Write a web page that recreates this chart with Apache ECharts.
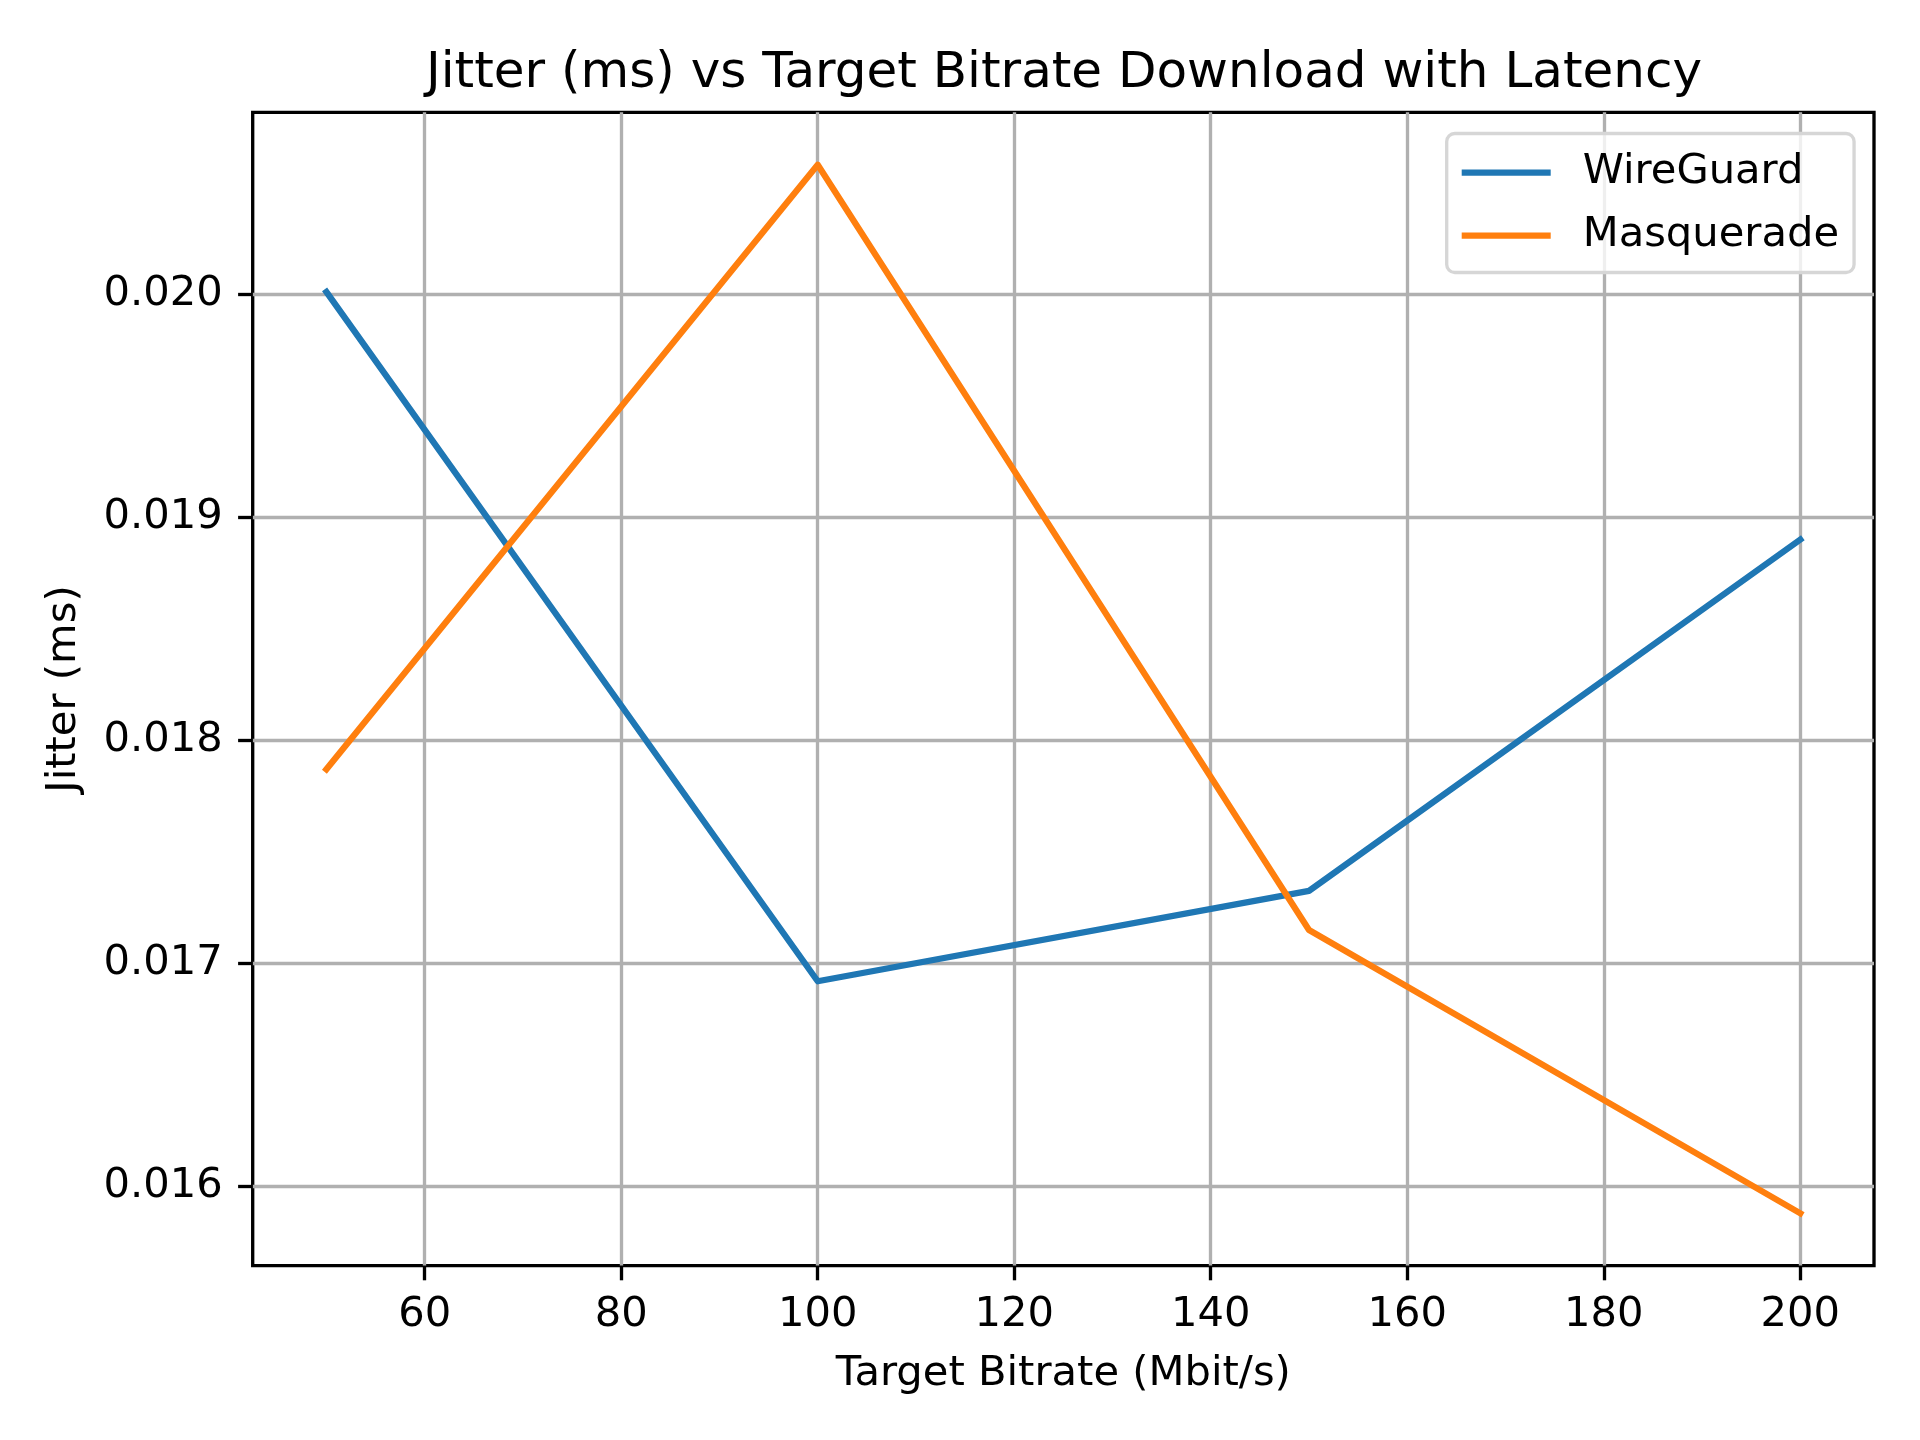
<!DOCTYPE html>
<html>
<head>
<meta charset="utf-8">
<script src="https://cdn.jsdelivr.net/npm/echarts@6/dist/echarts.min.js"></script>
<style>
html,body{margin:0;padding:0;background:#fff;}
#chart{width:1920px;height:1440px;}
</style>
</head>
<body>
<div id="chart"></div>
<script>
const bitrates = [50, 100, 150, 200];
const wireguard = [0.02001, 0.01692, 0.017325, 0.01890];
const masquerade = [0.01787, 0.02058, 0.01715, 0.01588];
const seriesNames = ['WireGuard', 'Masquerade'];
const xTicks = [60, 80, 100, 120, 140, 160, 180, 200];
const yTicks = [0.016, 0.017, 0.018, 0.019, 0.020];

const FONT = 'DejaVu Sans';
const all = wireguard.concat(masquerade);
const dMin = Math.min.apply(null, all), dMax = Math.max.apply(null, all);
const yr = dMax - dMin;
const xr = bitrates[bitrates.length - 1] - bitrates[0];

const chart = echarts.init(document.getElementById('chart'), null, {renderer: 'canvas'});
chart.setOption({
  animation: false,
  backgroundColor: '#fff',
  title: {
    text: 'Jitter (ms) vs Target Bitrate Download with Latency',
    left: 1059, top: 44, textAlign: 'center',
    textStyle: {fontFamily: FONT, fontSize: 50, fontWeight: 'normal', color: '#000', lineHeight: 50}
  },
  grid: {
    left: 252.7, right: 46, top: 112.3, bottom: 174.3,
    show: true, borderColor: '#000', borderWidth: 3.33, backgroundColor: 'transparent'
  },
  legend: {
    orient: 'vertical', left: 1446.7, top: 133.5,
    itemWidth: 89, itemHeight: 6.25, itemGap: 13, icon: 'rect',
    padding: [14, 15, 12, 15],
    borderColor: '#d6d6d6', borderWidth: 3.33, borderRadius: 8,
    backgroundColor: 'rgba(255,255,255,0.8)',
    textStyle: {fontFamily: FONT, fontSize: 41.67, lineHeight: 50, color: '#000', padding: [0, 0, 0, 27]},
    data: seriesNames
  },
  xAxis: {
    type: 'value',
    min: bitrates[0] - 0.05 * xr, max: bitrates[bitrates.length - 1] + 0.05 * xr,
    name: 'Target Bitrate (Mbit/s)', nameLocation: 'middle', nameGap: 108,
    nameTextStyle: {fontFamily: FONT, fontSize: 41.67, color: '#000', verticalAlign: 'middle'},
    axisLine: {show: false},
    axisTick: {show: true, inside: false, length: 14.6, lineStyle: {color: '#000', width: 3.33}, customValues: xTicks},
    axisLabel: {customValues: xTicks, margin: 28, fontFamily: FONT, fontSize: 41.67, color: '#000'},
    splitLine: {show: true, lineStyle: {color: '#b0b0b0', width: 3.33}}
  },
  yAxis: {
    type: 'value',
    min: dMin - 0.05 * yr, max: dMax + 0.05 * yr,
    name: 'Jitter (ms)', nameLocation: 'middle', nameGap: 189, nameRotate: 90,
    nameTextStyle: {fontFamily: FONT, fontSize: 41.67, color: '#000', verticalAlign: 'middle'},
    axisLine: {show: false},
    axisTick: {show: true, inside: false, length: 14.6, lineStyle: {color: '#000', width: 3.33}, customValues: yTicks},
    axisLabel: {customValues: yTicks, margin: 30, fontFamily: FONT, fontSize: 41.67, color: '#000',
      formatter: v => v.toFixed(3)},
    splitLine: {show: true, lineStyle: {color: '#b0b0b0', width: 3.33}}
  },
  series: [
    {
      name: seriesNames[0], type: 'line', showSymbol: false, symbol: 'none',
      data: bitrates.map((b, i) => [b, wireguard[i]]),
      itemStyle: {color: '#1f77b4'},
      lineStyle: {color: '#1f77b4', width: 6.25, cap: 'square', join: 'round'}
    },
    {
      name: seriesNames[1], type: 'line', showSymbol: false, symbol: 'none',
      data: bitrates.map((b, i) => [b, masquerade[i]]),
      itemStyle: {color: '#ff7f0e'},
      lineStyle: {color: '#ff7f0e', width: 6.25, cap: 'square', join: 'round'}
    }
  ]
});
</script>
</body>
</html>
